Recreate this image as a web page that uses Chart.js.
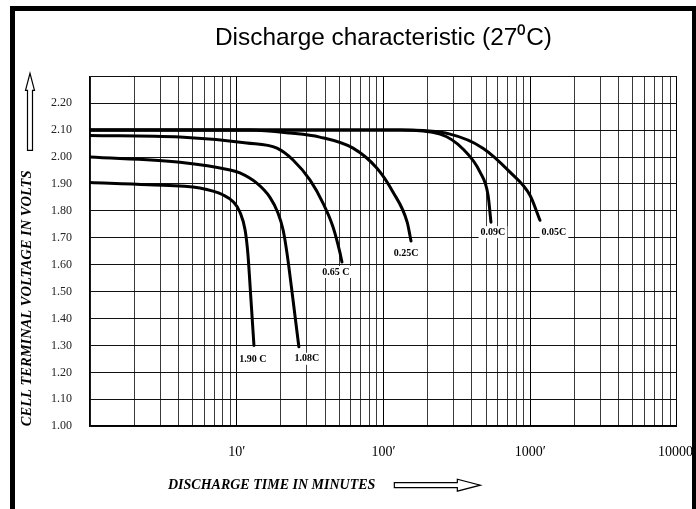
<!DOCTYPE html>
<html>
<head>
<meta charset="utf-8">
<script src="https://cdn.jsdelivr.net/npm/chart.js@4.4.1/dist/chart.umd.min.js"></script>
<style>
  html, body { margin: 0; padding: 0; background: #fff; }
  #wrap { position: relative; width: 696px; height: 509px; overflow: hidden; background: #fff; }
  #dischargeChart { display: block; }
  #frame { position: absolute; left: 10px; top: 6px; width: 687px; height: 520px; box-sizing: border-box;
           border: 5px solid #000; border-bottom: none; pointer-events: none; }
</style>
</head>
<body>
<div id="wrap">
  <canvas id="dischargeChart" width="696" height="509"></canvas>
  <div id="frame"></div>
</div>
<script>
// discharge rates (curve labels)
const rateLabels = ['1.90 C', '1.08C', '0.65 C', '0.25C', '0.09C', '0.05C'];

// minutes / volts per cell
const time190 = [1, 2.5, 5.6, 8.1, 9.5, 10.5, 11.4, 11.9, 12.5, 13.1];
const volts190 = [1.905, 1.897, 1.885, 1.859, 1.833, 1.796, 1.729, 1.643, 1.47, 1.30];

const time108 = [1, 4.1, 9.0, 10.5, 13.7, 16.8, 19.1, 20.7, 22.0, 24.2, 26.5];
const volts108 = [2.00, 1.981, 1.952, 1.941, 1.903, 1.851, 1.792, 1.729, 1.643, 1.468, 1.295];

const time065 = [1, 4.1, 11.7, 18.8, 24.2, 31.6, 38.7, 45.3, 50.6, 52.1];
const volts065 = [2.08, 2.074, 2.052, 2.033, 1.989, 1.914, 1.829, 1.740, 1.643, 1.61];

const time025 = [1, 5.6, 12.3, 23.1, 36.8, 62, 90, 116, 145, 154];
const volts025 = [2.10, 2.10, 2.10, 2.089, 2.074, 2.033, 1.959, 1.870, 1.758, 1.688];

const time009 = [1, 30, 130, 243, 348, 455, 516, 540];
const volts009 = [2.10, 2.10, 2.10, 2.085, 2.03, 1.944, 1.858, 1.758];

const time005 = [1, 30, 130, 284, 476, 728, 996, 1165];
const volts005 = [2.10, 2.10, 2.10, 2.085, 2.033, 1.944, 1.858, 1.765];

// axes
const xGridValues = [1, 2, 3, 4, 5, 6, 7, 8, 9,
                     10, 20, 30, 40, 50, 60, 70, 80, 90,
                     100, 200, 300, 400, 500, 600, 700, 800, 900,
                     1000, 2000, 3000, 4000, 5000, 6000, 7000, 8000, 9000, 10000];
const xLabelValues = [10, 100, 1000, 10000];

const seriesTimes = [time190, time108, time065, time025, time009, time005];
const seriesVolts = [volts190, volts108, volts065, volts025, volts009, volts005];

// pixel nudge of each curve label from the curve end
const labelShift = [[-1, 14], [8, 12], [-6, 10], [-5, 12], [2, 10], [14, 12]];

const serif = '"Liberation Serif", "Times New Roman", serif';

function drawArrow(ctx, pts) {
    ctx.beginPath();
    ctx.moveTo(pts[0][0], pts[0][1]);
    for (let i = 1; i < pts.length; i++) ctx.lineTo(pts[i][0], pts[i][1]);
    ctx.closePath();
    ctx.fillStyle = '#fff';
    ctx.fill();
    ctx.lineWidth = 1.2;
    ctx.strokeStyle = '#000';
    ctx.stroke();
}

const decorations = {
    id: 'decorations',
    afterDatasetsDraw(chart) {
        const ctx = chart.ctx;
        ctx.save();
        ctx.font = 'bold 10px ' + serif;
        ctx.textAlign = 'center';
        ctx.textBaseline = 'middle';
        chart.data.datasets.forEach((ds, i) => {
            const pts = chart.getDatasetMeta(i).data;
            const end = pts[pts.length - 1];
            const x = end.x + labelShift[i][0];
            const y = end.y + labelShift[i][1];
            const w = ctx.measureText(ds.label).width + 4;
            ctx.fillStyle = '#fff';
            ctx.fillRect(x - w / 2, y - 6, w, 12);
            ctx.fillStyle = '#000';
            ctx.fillText(ds.label, x, y);
        });
        ctx.restore();
    },
    afterDraw(chart) {
        const ctx = chart.ctx;
        const area = chart.chartArea;
        ctx.save();
        // x axis title with arrow
        const tx = area.left + 78;
        const ty = area.bottom + 59;
        ctx.font = 'italic bold 14px ' + serif;
        ctx.textAlign = 'left';
        ctx.textBaseline = 'middle';
        ctx.fillStyle = '#000';
        const text = 'DISCHARGE TIME IN MINUTES';
        ctx.fillText(text, tx, ty);
        const ax = tx + ctx.measureText(text).width + 19;
        drawArrow(ctx, [[ax, ty - 2.5], [ax + 63, ty - 2.5], [ax + 63, ty - 6], [ax + 86, ty],
                        [ax + 63, ty + 6], [ax + 63, ty + 2.5], [ax, ty + 2.5]]);
        // up arrow beside the y title
        const cx = 30;
        const top = area.top - 3;
        drawArrow(ctx, [[cx - 2.5, top + 77], [cx - 2.5, top + 17], [cx - 4.5, top + 17], [cx, top],
                        [cx + 4.5, top + 17], [cx + 2.5, top + 17], [cx + 2.5, top + 77]]);
        ctx.restore();
    }
};

const ctx = document.getElementById('dischargeChart').getContext('2d');
new Chart(ctx, {
    type: 'line',
    data: {
        datasets: rateLabels.map((name, i) => ({
            label: name,
            data: seriesTimes[i].map((t, j) => ({ x: t, y: seriesVolts[i][j] })),
            borderColor: '#000',
            borderWidth: 3,
            borderCapStyle: 'round',
            pointRadius: 0,
            cubicInterpolationMode: 'monotone',
            fill: false
        }))
    },
    options: {
        responsive: false,
        animation: false,
        layout: { padding: { top: 10, left: 14, right: 1, bottom: 31 } },
        plugins: {
            legend: { display: false },
            tooltip: { enabled: false },
            title: {
                display: true,
                fullSize: false,
                text: 'Discharge characteristic (27\u2070C)',
                color: '#000',
                font: { family: '"Liberation Sans", Arial, sans-serif', size: 24.4, weight: 'normal' },
                padding: { top: 14, bottom: 23 }
            }
        },
        scales: {
            x: {
                type: 'logarithmic',
                min: 1,
                max: 10000,
                afterBuildTicks: scale => {
                    scale.ticks = xGridValues.map(v => ({ value: v }));
                },
                grid: {
                    color: c => (xLabelValues.includes(c.tick && c.tick.value) ? '#000' : '#3a3a3a'),
                    lineWidth: 1,
                    drawTicks: false
                },
                border: { color: '#000', width: 1.5 },
                ticks: {
                    autoSkip: false,
                    maxRotation: 0,
                    padding: 0,
                    color: '#000',
                    font: { family: serif, size: 14, lineHeight: 3.7 },
                    callback: v => (xLabelValues.includes(v) ? v + '\u2032' : '')
                }
            },
            y: {
                min: 1.0,
                max: 2.3,
                grid: { color: '#111', lineWidth: 1, drawTicks: false },
                border: { color: '#000', width: 1.5 },
                ticks: {
                    stepSize: 0.1,
                    padding: 18,
                    color: '#222',
                    font: { family: serif, size: 12 },
                    callback: v => (v > 2.25 ? '' : v.toFixed(2))
                },
                title: {
                    display: true,
                    text: 'CELL TERMINAL VOLTAGE IN VOLTS',
                    align: 'start',
                    color: '#000',
                    font: { family: serif, size: 14.5, style: 'italic', weight: 'bold' },
                    padding: { top: 4.3, bottom: -2.7 }
                }
            }
        }
    },
    plugins: [decorations]
});
</script>
</body>
</html>
